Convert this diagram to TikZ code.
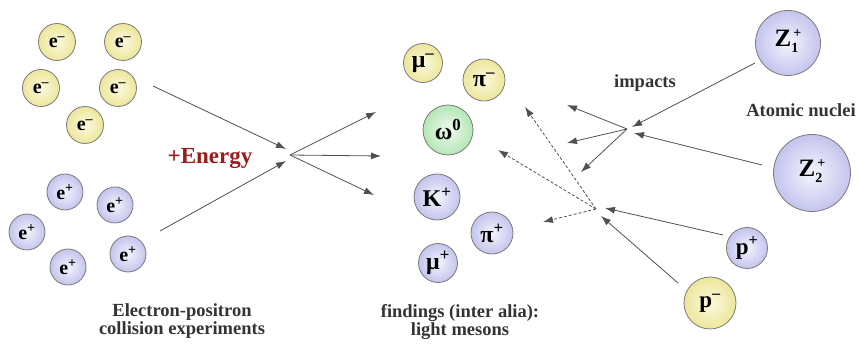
\documentclass[tikz,border=0pt]{standalone}
\usepackage{fontspec}
\setmainfont{Liberation Serif}
\usetikzlibrary{arrows.meta}
\definecolor{ylwin}{HTML}{FCFAE0}
\definecolor{ylwout}{HTML}{ECE69A}
\definecolor{bluin}{HTML}{F4F4FD}
\definecolor{bluout}{HTML}{C4C4EE}
\definecolor{grnin}{HTML}{F0FBF0}
\definecolor{grnout}{HTML}{B4E6B4}
\definecolor{rim}{HTML}{7A7A7A}
\definecolor{energy}{HTML}{9B1C1C}
\definecolor{wire}{HTML}{505050}
\tikzset{
  particle/.style={circle, draw=rim, line width=0.8pt, inner sep=0pt,
    minimum size=#1, font=\bfseries\fontsize{20}{20}\selectfont},
  ylw/.style={particle=#1, inner color=ylwin, outer color=ylwout},
  blu/.style={particle=#1, inner color=bluin, outer color=bluout},
  grn/.style={particle=#1, inner color=grnin, outer color=grnout},
  meson/.style={font=\bfseries\fontsize{24}{24}\selectfont},
  flow/.style={draw=wire, line width=0.8pt, -{Latex[length=10pt,width=7pt]}},
  dflow/.style={flow, dashed, dash pattern=on 3pt off 2pt},
  caption/.style={font=\bfseries\fontsize{18.5}{18}\selectfont, align=center, text=black!80},
  tag/.style={font=\bfseries\fontsize{18.5}{18}\selectfont, text=black!80}
}
\newcommand{\mn}{\textsuperscript{–}}
\newcommand{\pl}{\textsuperscript{+}}
% nucleus symbol with stacked charge and index
\newcommand{\nucl}[1]{Z{\fontsize{14}{13}\selectfont\begin{tabular}[c]{@{}l@{}}\raisebox{2pt}{\hspace{2pt}+}\\#1\end{tabular}}}
\begin{document}
\begin{tikzpicture}[x=1pt,y=-1pt]
\useasboundingbox (0,0) rectangle (860,344);
% electrons
\node[ylw=37pt] (em1) at (57,42) {e\mn};
\node[ylw=37pt] (em2) at (123,42) {e\mn};
\node[ylw=37pt] (em3) at (41,88) {e\mn};
\node[ylw=37pt] (em4) at (118,88) {e\mn};
\node[ylw=37pt] (em5) at (85,125) {e\mn};
% positrons
\node[blu=36pt] (ep1) at (65,192) {e\pl};
\node[blu=36pt] (ep2) at (115,205) {e\pl};
\node[blu=36pt] (ep3) at (27,232) {e\pl};
\node[blu=36pt] (ep4) at (128,254) {e\pl};
\node[blu=36pt] (ep5) at (68,267) {e\pl};
% collision
\coordinate (ein) at (153,86);
\coordinate (pin) at (160,231);
\coordinate (hit) at (290,155);
\coordinate (ha) at (286,149);
\coordinate (hb) at (286,161);
\draw[flow] (ein) -- (ha);
\draw[flow] (pin) -- (hb);
\node[font=\bfseries\fontsize{23}{23}\selectfont, text=energy] (en) at (210,159) {+Energy};
\coordinate (o1) at (376,112);
\coordinate (o2) at (381,156);
\coordinate (o3) at (374,195);
\draw[flow] (hit) -- (o1);
\draw[flow] (hit) -- (o2);
\draw[flow] (hit) -- (o3);
% mesons
\node[ylw=39pt, meson] (mum) at (423,63) {μ\mn};
\node[ylw=42pt, meson] (pim) at (484,80) {π\mn};
\node[grn=50pt, meson] (om) at (448,130) {ω\textsuperscript{0}};
\node[blu=46pt, meson] (kp) at (437,197) {K\pl};
\node[blu=42pt, meson] (pip) at (492,233) {π\pl};
\node[blu=39pt, meson] (mup) at (438,263) {μ\pl};
% nuclei and protons
\node[blu=65pt, font=\bfseries\fontsize{25}{25}\selectfont] (z1) at (788,43) {\nucl{1}};
\node[blu=77pt, font=\bfseries\fontsize{25}{25}\selectfont] (z2) at (812,173) {\nucl{2}};
\node[blu=41pt, font=\bfseries\fontsize{23}{23}\selectfont] (pp) at (747,248) {p\pl};
\node[ylw=52pt, font=\bfseries\fontsize{23}{23}\selectfont] (pm) at (710,303) {p\mn};
% nucleus impacts
\coordinate (zi) at (627,129);
\coordinate (za) at (632,127);
\coordinate (zb) at (634,133);
\coordinate (z1s) at (755,63);
\coordinate (z2s) at (762,165);
\draw[flow] (z1s) -- (za);
\draw[flow] (z2s) -- (zb);
\coordinate (q1) at (567,105);
\coordinate (q2) at (567,143);
\coordinate (q3) at (581,172);
\draw[flow] (zi) -- (q1);
\draw[flow] (zi) -- (q2);
\draw[flow] (zi) -- (q3);
% proton impacts
\coordinate (pi0) at (596,209);
\coordinate (ppe) at (605,208);
\coordinate (pme) at (601,216);
\coordinate (pps) at (723,235);
\coordinate (pms) at (678,283);
\draw[flow] (pps) -- (ppe);
\draw[flow] (pms) -- (pme);
\coordinate (d1) at (525,107);
\coordinate (d2) at (498,150);
\coordinate (d3) at (543,222);
\draw[dflow] (pi0) -- (d1);
\draw[dflow] (pi0) -- (d2);
\draw[dflow] (pi0) -- (d3);
% labels
\node[tag] (imp) at (645,83) {impacts};
\node[tag] (nuc) at (801,110) {Atomic nuclei};
\node[caption] (cap1) at (182,321) {Electron-positron\\collision experiments};
\node[caption] (cap2) at (460,322) {findings (inter alia):\\light mesons};
\end{tikzpicture}
\end{document}
